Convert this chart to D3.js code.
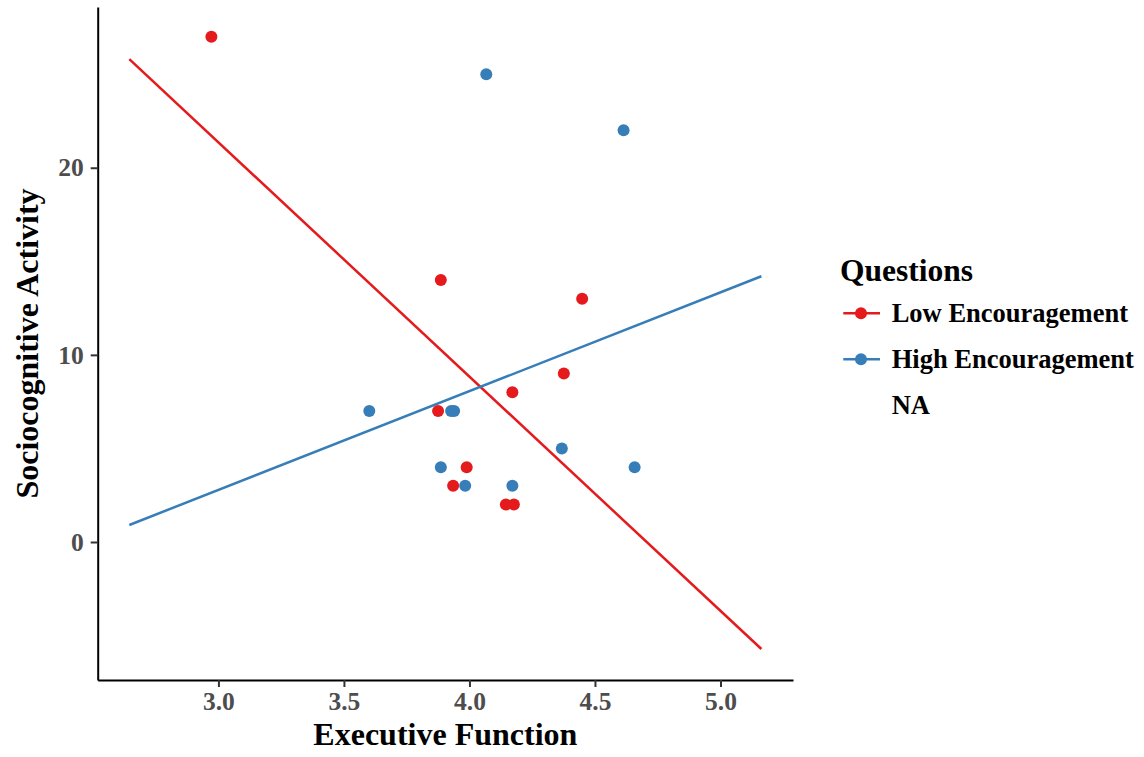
<!DOCTYPE html>
<html>
<head>
<meta charset="utf-8">
<script src="https://cdn.jsdelivr.net/npm/d3@7"></script>
<style>
  body { margin: 0; background: #fff; }
  svg { display: block; font-family: "Liberation Serif", "Times New Roman", serif; font-weight: bold; }
</style>
</head>
<body>
<svg id="chart" width="1144" height="757"></svg>
<script>
// ---- Data ----
const lowX  = [2.972, 3.886, 4.449, 4.376, 4.171, 3.875, 3.989, 3.935, 4.145, 4.177];
const lowY  = [27, 14, 13, 9, 8, 7, 4, 3, 2, 2];
const highX = [3.601, 3.927, 3.939, 3.886, 3.983, 4.171, 4.368, 4.658, 4.067, 4.614];
const highY = [7, 7, 7, 4, 3, 3, 5, 4, 25, 22];
// fitted lines (endpoints)
const fitX     = [2.645, 5.163];
const lowFitY  = [25.8, -5.72];
const highFitY = [0.91, 14.2];
const xTicks = [3.0, 3.5, 4.0, 4.5, 5.0];
const yTicks = [0, 10, 20];
const groups = ["Low Encouragement", "High Encouragement", "NA"];
const colors = ["#E41A1C", "#377EB8", null];

// ---- Layout ----
const svg = d3.select("#chart");
const L = 97.7, R = 793, T = 7, B = 680;
const x = d3.scaleLinear().domain([2.5191, 5.2889]).range([L, R]);
const y = d3.scaleLinear().domain([-7.375, 28.59]).range([B, T]);

// axes
const xAxis = svg.append("g").attr("transform", `translate(0,${B})`)
  .call(d3.axisBottom(x).tickValues(xTicks).tickFormat(d3.format(".1f")).tickSize(7).tickPadding(5).tickSizeOuter(0));
const yAxis = svg.append("g").attr("transform", `translate(${L},0)`)
  .call(d3.axisLeft(y).tickValues(yTicks).tickFormat(d3.format("d")).tickSize(7).tickPadding(7).tickSizeOuter(0));
[xAxis, yAxis].forEach(a => {
  a.select(".domain").attr("stroke", "#000").attr("stroke-width", 2);
  a.selectAll(".tick line").attr("stroke", "#333").attr("stroke-width", 2);
  a.selectAll(".tick text").attr("fill", "#4D4D4D").attr("font-size", 25.5)
    .attr("font-family", "Liberation Serif").attr("font-weight", "bold");
});
xAxis.selectAll(".tick text").attr("dy", "0.7em");

// fit lines
const line = d3.line().x(d => x(d[0])).y(d => y(d[1]));
svg.append("path").datum(fitX.map((v, i) => [v, lowFitY[i]]))
  .attr("d", line).attr("fill", "none").attr("stroke", colors[0]).attr("stroke-width", 2.5);
svg.append("path").datum(fitX.map((v, i) => [v, highFitY[i]]))
  .attr("d", line).attr("fill", "none").attr("stroke", colors[1]).attr("stroke-width", 2.5);

// points
svg.append("g").selectAll("circle").data(lowX.map((v, i) => [v, lowY[i]])).join("circle")
  .attr("cx", d => x(d[0])).attr("cy", d => y(d[1])).attr("r", 6).attr("fill", colors[0]);
svg.append("g").selectAll("circle").data(highX.map((v, i) => [v, highY[i]])).join("circle")
  .attr("cx", d => x(d[0])).attr("cy", d => y(d[1])).attr("r", 6).attr("fill", colors[1]);

// axis titles
svg.append("text").attr("x", (L + R) / 2).attr("y", 745).attr("text-anchor", "middle")
  .attr("font-size", 32).attr("fill", "#000").text("Executive Function");
svg.append("text").attr("transform", `translate(38,${(T + B) / 2}) rotate(-90)`).attr("text-anchor", "middle")
  .attr("font-size", 32).attr("fill", "#000").text("Sociocognitive Activity");

// legend
const lg = svg.append("g");
lg.append("text").attr("x", 840).attr("y", 280.5).attr("font-size", 31.5).attr("fill", "#000").text("Questions");
const keyY = [313.3, 359.3, 405.5];
groups.forEach((g, i) => {
  if (colors[i]) {
    lg.append("line").attr("x1", 843.3).attr("x2", 880).attr("y1", keyY[i]).attr("y2", keyY[i])
      .attr("stroke", colors[i]).attr("stroke-width", 2.5);
    lg.append("circle").attr("cx", 861).attr("cy", keyY[i]).attr("r", 6).attr("fill", colors[i]);
  }
  lg.append("text").attr("x", 891.7).attr("y", keyY[i]).attr("dy", "0.33em")
    .attr("font-size", 26.5).attr("fill", "#000").text(g);
});
</script>
</body>
</html>
